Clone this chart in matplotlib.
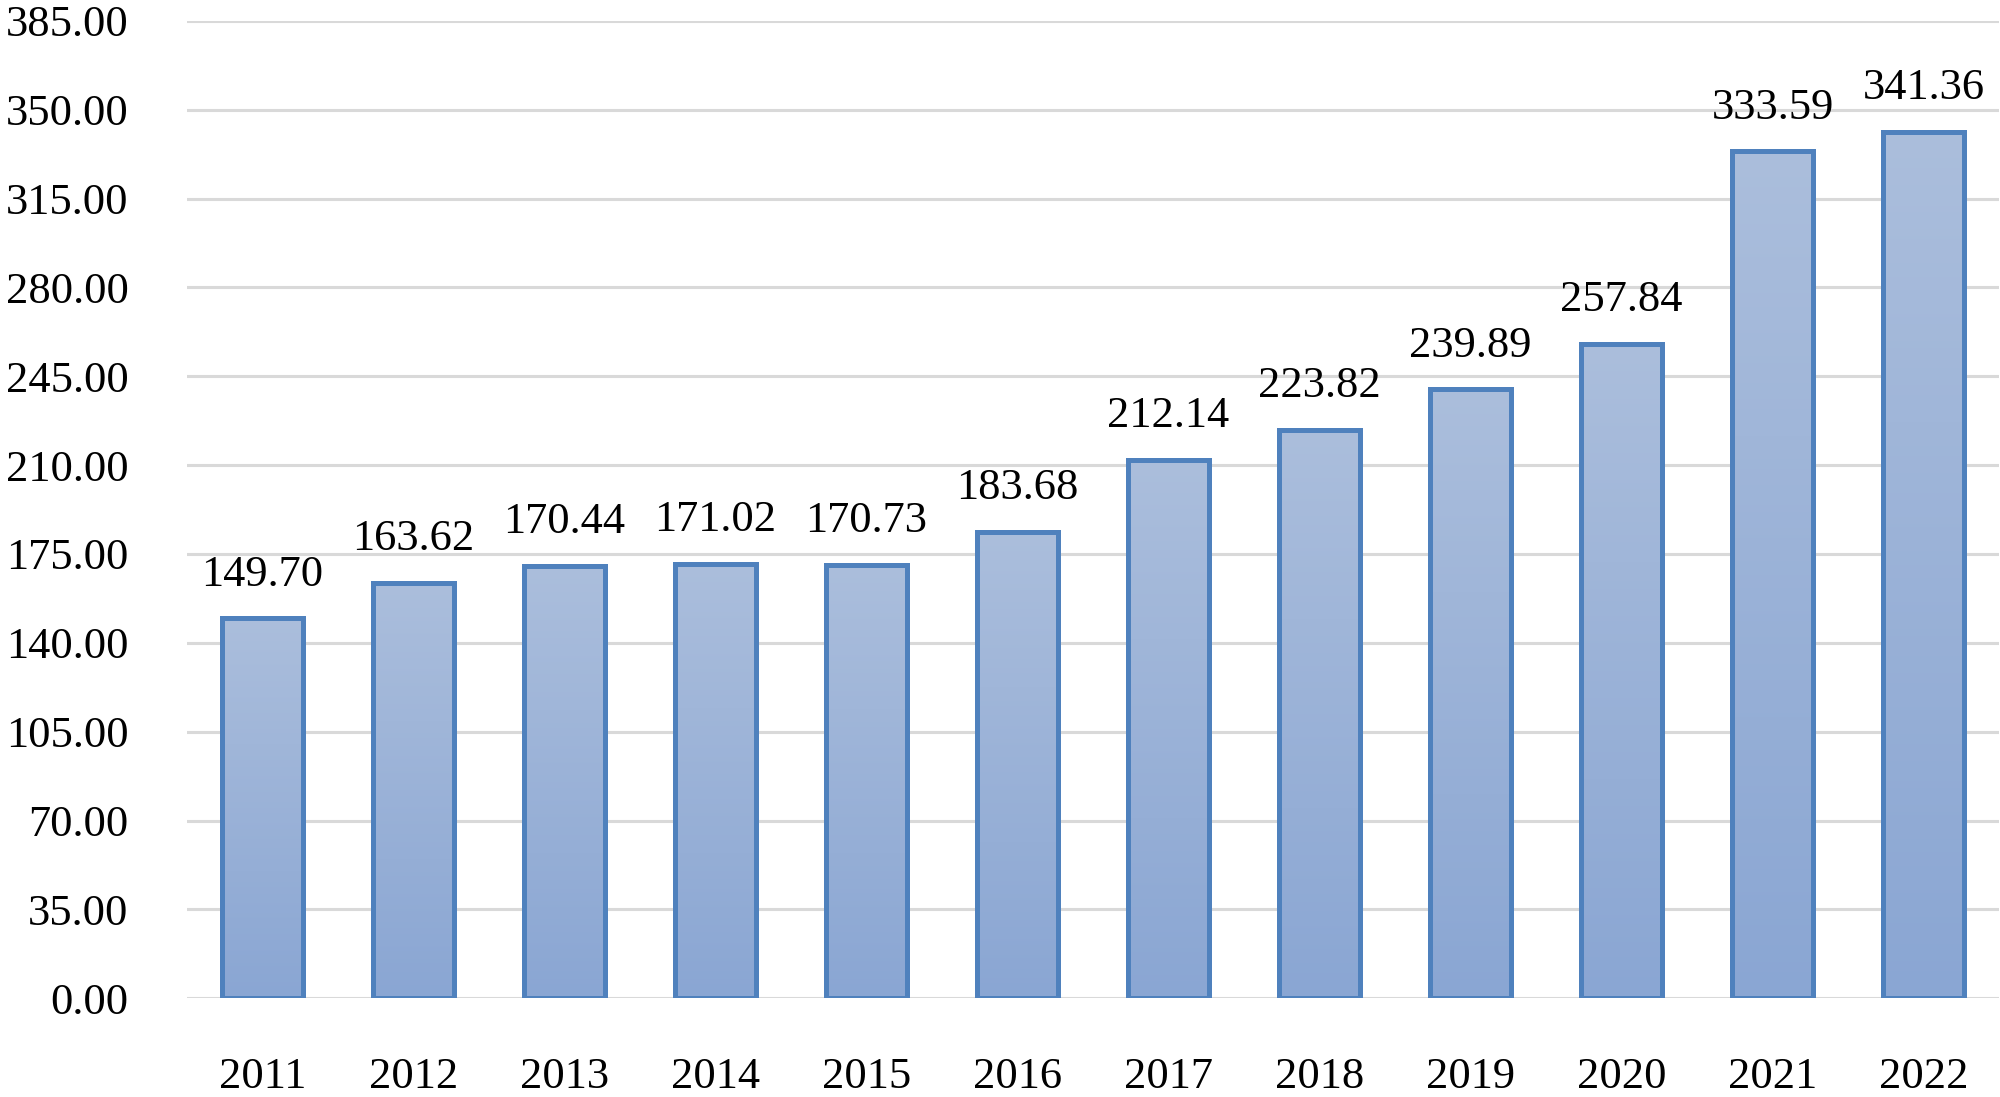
import matplotlib
matplotlib.use("Agg")
import matplotlib.pyplot as plt
import numpy as np

years = ["2011", "2012", "2013", "2014", "2015", "2016",
         "2017", "2018", "2019", "2020", "2021", "2022"]
values = [149.70, 163.62, 170.44, 171.02, 170.73, 183.68,
          212.14, 223.82, 239.89, 257.84, 333.59, 341.36]
y_ticks = [0, 35, 70, 105, 140, 175, 210, 245, 280, 315, 350, 385]

plt.rcParams["font.family"] = ["Liberation Serif", "DejaVu Serif"]

fig = plt.figure(figsize=(20, 10.97), dpi=100)
ax = fig.add_axes([0.0935, 0.09, 0.906, 0.891])

x = np.arange(len(years))
bars = ax.bar(x, values, width=0.53, facecolor="none",
              edgecolor="#4F81BD", linewidth=3.6, zorder=3)

# vertical gradient fill, clipped to each bar
grad = np.linspace(0, 1, 256).reshape(-1, 1)
cmap = matplotlib.colors.LinearSegmentedColormap.from_list(
    "barfill", ["#8AA6D3", "#ABBEDC"])
for b in bars:
    x0, w, h = b.get_x(), b.get_width(), b.get_height()
    im = ax.imshow(grad, cmap=cmap, aspect="auto", origin="lower",
                   extent=[x0, x0 + w, 0, h], zorder=2)
    im.set_clip_path(b)

for xi, v in zip(x, values):
    ax.annotate(f"{v:.2f}", (xi, v), xytext=(0, 17), textcoords="offset points",
                ha="center", va="bottom", fontsize=32, color="black")

ax.set_xlim(-0.5, len(years) - 0.5)
ax.set_ylim(0, 385)
ax.set_yticks(y_ticks)
ax.set_yticklabels([f"{t:.2f}" for t in y_ticks], fontsize=32)
ax.set_xticks(x)
ax.set_xticklabels(years, fontsize=32)
ax.tick_params(axis="both", length=0)
ax.tick_params(axis="y", pad=42)
ax.tick_params(axis="x", pad=42)
ax.grid(axis="y", color="#D9D9D9", linewidth=2.2, zorder=0)
ax.set_axisbelow(True)
for s in ax.spines.values():
    s.set_visible(False)

fig.savefig("out.png", dpi=100, facecolor="white")
